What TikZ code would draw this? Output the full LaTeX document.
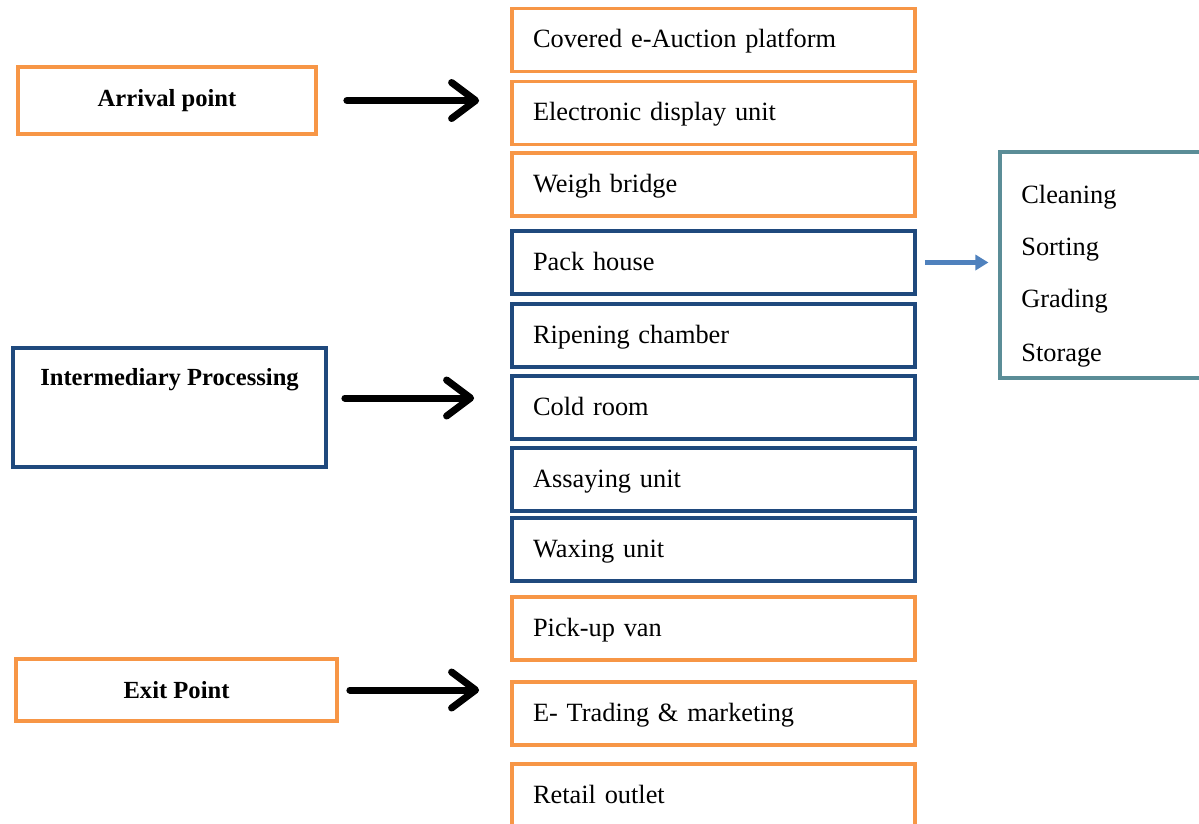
\documentclass[tikz,border=0pt]{standalone}
\usepackage{fontspec}
\setmainfont{Liberation Serif}
\usetikzlibrary{arrows.meta}
\definecolor{stageorange}{HTML}{F79646}
\definecolor{stageblue}{HTML}{1F497D}
\definecolor{stepteal}{HTML}{5B8D97}
\definecolor{arrowblue}{HTML}{4F81BD}
\begin{document}
\begin{tikzpicture}[x=0.02cm,y=-0.02cm,
        base/.style={rectangle,draw,line width=2.2pt,inner sep=0pt,fill=white},
        warm/.style={draw=stageorange},
        cool/.style={draw=stageblue},
        stage/.style={base,align=center,font=\bfseries\fontsize{14}{17}\selectfont},
        item/.style={base,minimum width=8.06cm,minimum height=1.26cm,text width=7.22cm,
            align=left,text height=0.4cm,text depth=0.1cm,font=\fontsize{15}{18}\selectfont},
        stepitem/.style={anchor=base west,inner sep=0pt,font=\fontsize{15}{18}\selectfont},
        flow/.style={line width=4pt,line cap=round,shorten <=0.58cm,shorten >=0.62cm,
            -{Straight Barb[length=0.48cm,width=0.72cm,line cap=round,round]}},
        side/.style={draw=arrowblue,line width=2.4pt,shorten <=0.16cm,shorten >=0.2cm,
            -{Triangle[length=0.26cm,width=0.3cm]}}]
        \useasboundingbox (0,0) rectangle (1199,823);
        % Left column: the three stages
        \node[stage,warm,minimum width=5.96cm,minimum height=1.34cm] (arrival) at (167,100.5) {Arrival point};
        \node[stage,cool,minimum width=6.26cm,text height=0.74cm,text depth=1.64cm] (inter) at (169.5,407.5) {Intermediary Processing};
        \node[stage,warm,minimum width=6.42cm,minimum height=1.24cm] (exit) at (176.5,690) {Exit Point};
        % Middle column: facilities
        \node[item,warm] (auction) at (713.5,40) {Covered e-Auction platform};
        \node[item,warm] (display) at (713.5,113) {Electronic display unit};
        \node[item,warm] (weigh) at (713.5,184.5) {Weigh bridge};
        \node[item,cool] (pack) at (713.5,262.5) {Pack house};
        \node[item,cool] (ripen) at (713.5,335.5) {Ripening chamber};
        \node[item,cool] (cold) at (713.5,407.5) {Cold room};
        \node[item,cool] (assay) at (713.5,479.5) {Assaying unit};
        \node[item,cool] (wax) at (713.5,549.5) {Waxing unit};
        \node[item,warm] (pickup) at (713.5,628.5) {Pick-up van};
        \node[item,warm] (trade) at (713.5,713.5) {E- Trading \& marketing};
        \node[item,warm] (retail) at (713.5,795.5) {Retail outlet};
        % Right column: pack house steps
        \node[base,draw=stepteal,line width=1.8pt,minimum width=4.24cm,minimum height=4.52cm] (steps) at (1106,265) {};
        \node[stepitem] (clean) at (1021,203) {Cleaning};
        \node[stepitem] (sort) at (1021,255) {Sorting};
        \node[stepitem] (grade) at (1021,307) {Grading};
        \node[stepitem] (store) at (1021,361) {Storage};
        % Arrows
        \draw[flow] (arrival.east) -- (arrival.east -| display.west);
        \draw[flow,shorten <=0.34cm,shorten >=0.72cm] ([yshift=0.19cm]inter.east) -- ([yshift=0.19cm]inter.east -| cold.west);
        \draw[flow,shorten <=0.22cm] (exit.east) -- (exit.east -| trade.west);
        \draw[side] (pack.east) -- (pack.east -| steps.west);
\end{tikzpicture}
\end{document}
